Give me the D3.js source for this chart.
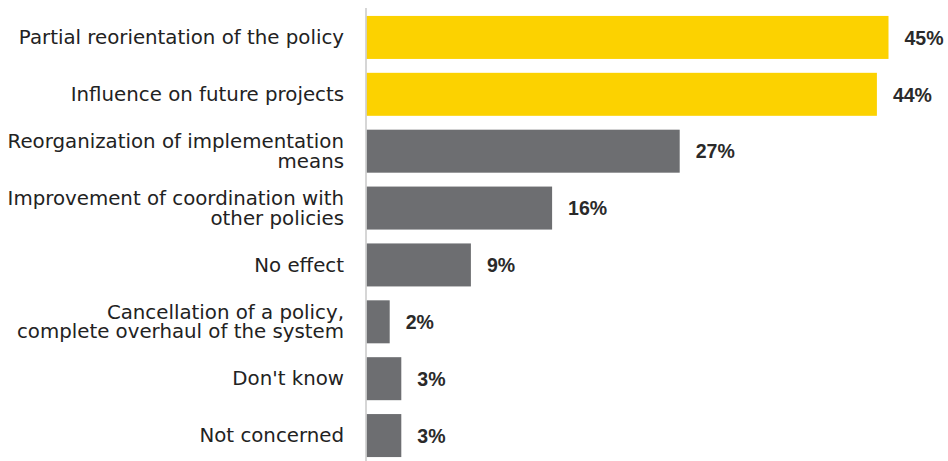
<!DOCTYPE html>
<html>
<head>
<meta charset="utf-8">
<script src="https://cdn.jsdelivr.net/npm/d3@7"></script>
<style>
  html, body { margin: 0; padding: 0; background: #fff; }
  svg { display: block; }
  .cat { font-family: "DejaVu Sans", sans-serif; font-size: 19.8px; fill: #222; }
  .val { font-family: "Liberation Sans", Arial, sans-serif; font-size: 19.5px; font-weight: 700; fill: #2a2a2a; }
</style>
</head>
<body>
<svg id="chart" width="948" height="461"></svg>
<script>
// Responses, top to bottom (multi-line labels split on "\n")
const categories = [
  "Partial reorientation of the policy",
  "Influence on future projects",
  "Reorganization of implementation\nmeans",
  "Improvement of coordination with\nother policies",
  "No effect",
  "Cancellation of a policy,\ncomplete overhaul of the system",
  "Don't know",
  "Not concerned"
];
const values = [45, 44, 27, 16, 9, 2, 3, 3];
const highlighted = [true, true, false, false, false, false, false, false];

const colors = { highlight: "#fcd200", base: "#6d6e71", axis: "#c8c8c8" };

const svg = d3.select("#chart");

const x = d3.scaleLinear().domain([0, 45]).range([366.5, 888.5]);
const y = d3.scaleBand()
  .domain(categories)
  .range([9, 464])
  .paddingInner(0.244)
  .paddingOuter(0.122);

// bars
svg.selectAll("rect.bar")
  .data(categories)
  .join("rect")
  .attr("class", "bar")
  .attr("x", x(0))
  .attr("y", d => y(d))
  .attr("width", (d, i) => x(values[i]) - x(0))
  .attr("height", y.bandwidth())
  .attr("fill", (d, i) => highlighted[i] ? colors.highlight : colors.base);

// vertical baseline
svg.append("line")
  .attr("x1", 366).attr("x2", 366)
  .attr("y1", 8).attr("y2", 461)
  .attr("stroke", colors.axis)
  .attr("stroke-width", 1.5);

// category labels, right-aligned to the left of the baseline
const lineGap = 19.5;
svg.selectAll("text.cat")
  .data(categories)
  .join("text")
  .attr("class", "cat")
  .attr("text-anchor", "end")
  .each(function(d) {
    const lines = d.split("\n");
    const cy = y(d) + y.bandwidth() / 2;
    const start = cy - (lines.length - 1) * lineGap / 2;
    d3.select(this).selectAll("tspan")
      .data(lines)
      .join("tspan")
      .attr("x", 344)
      .attr("y", (l, j) => start + j * lineGap)
      .attr("dy", "0.34em")
      .text(l => l);
  });

// value labels
svg.selectAll("text.val")
  .data(categories)
  .join("text")
  .attr("class", "val")
  .attr("x", (d, i) => x(values[i]) + 16)
  .attr("y", d => y(d) + y.bandwidth() / 2)
  .attr("dy", "0.37em")
  .text((d, i) => values[i] + "%");
</script>
</body>
</html>
